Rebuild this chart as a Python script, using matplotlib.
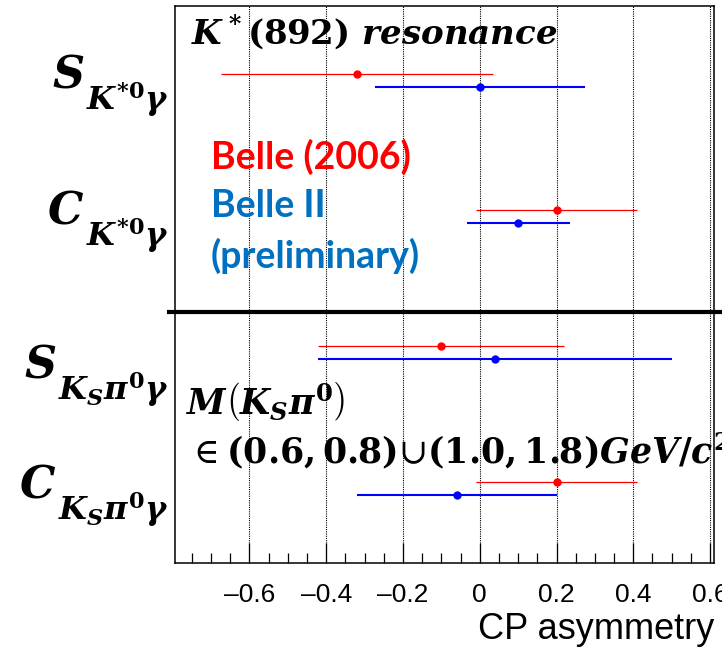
import matplotlib
matplotlib.use("Agg")
import matplotlib.pyplot as plt
from matplotlib.ticker import MultipleLocator, FuncFormatter
from matplotlib.transforms import blended_transform_factory

# Bold-italic math letters with bold upright digits (Cambria Math bold look)
plt.rcParams['mathtext.fontset'] = 'custom'
plt.rcParams['mathtext.it'] = 'DejaVu Serif:italic:bold'
plt.rcParams['mathtext.rm'] = 'DejaVu Serif:bold'
plt.rcParams['mathtext.bf'] = 'DejaVu Serif:italic:bold'
plt.rcParams['mathtext.sf'] = 'DejaVu Serif'

# Observables (top to bottom): main symbol and subscript
obs_main = ['S', 'C', 'S', 'C']
obs_sub = [r'K^{*0}\gamma', r'K^{*0}\gamma', r'K_S\pi^0\gamma', r'K_S\pi^0\gamma']

# Belle (2006)
belle_val = [-0.32, 0.20, -0.10, 0.20]
belle_lo = [0.353, 0.21, 0.32, 0.21]
belle_hi = [0.355, 0.21, 0.32, 0.21]

# Belle II (preliminary)
belle2_val = [0.00, 0.10, 0.04, -0.06]
belle2_lo = [0.273, 0.133, 0.46, 0.26]
belle2_hi = [0.273, 0.134, 0.46, 0.26]

xticks = [-0.6, -0.4, -0.2, 0.0, 0.2, 0.4, 0.6]

RED = '#ff0000'
BLUE = '#0000ff'
TXT_BLUE = '#0070c0'

fig = plt.figure(figsize=(7.22, 6.48), dpi=100)
ax = fig.add_axes([174.5 / 722, (648 - 562.7) / 648, 539.8 / 722, 557.2 / 648])

n = len(obs_main)
y_belle = [i + 0.5 for i in range(n)]
y_belle2 = [i + 0.6 for i in range(n)]

ax.errorbar(belle_val, y_belle, xerr=[belle_lo, belle_hi], fmt='o', color=RED,
            ms=5, elinewidth=0.9, capsize=0, zorder=4)
ax.errorbar(belle2_val, y_belle2, xerr=[belle2_lo, belle2_hi], fmt='o', color=BLUE,
            ms=5, elinewidth=1.5, capsize=0, zorder=4)

ax.set_xlim(-0.795, 0.611)
ax.set_ylim(4.097, 0)

# grid and ticks
for xv in xticks:
    ax.axvline(xv, color='black', lw=0.8, ls=(0, (1, 1)), zorder=1)
ax.set_xticks(xticks)
ax.xaxis.set_minor_locator(MultipleLocator(0.05))
ax.xaxis.set_major_formatter(FuncFormatter(
    lambda v, p: '0' if abs(v) < 1e-9 else f'{v:.1f}'.replace('-', '\u2013')))
ax.tick_params(axis='x', which='major', direction='in', length=14.5, width=0.9,
               labelsize=19, pad=14.5, top=False)
ax.tick_params(axis='x', which='minor', direction='in', length=7.2, width=0.9, top=False)
for lab in ax.get_xticklabels():
    lab.set_family('Liberation Sans')
ax.set_yticks([])
for sp in ax.spines.values():
    sp.set_linewidth(1.1)

ax.set_xlabel('CP asymmetry', fontsize=26, family='Liberation Sans', loc='right',
              labelpad=4)

# thick separator between the two channels
ax.plot([-0.01, 1.02], [2.254, 2.254], color='black', lw=3,
        transform=ax.get_yaxis_transform(), clip_on=False, zorder=5)

# row labels on the left: subscript sits well below the main letter
label_base = [0.60, 1.60, 2.732, 3.614]
sub_drop = 0.169
subs = []
for sub, yb in zip(obs_sub, label_base):
    subs.append(ax.text(-0.009, yb + sub_drop, f'${sub}$', transform=ax.get_yaxis_transform(),
                        ha='right', va='baseline', fontsize=23))
fig.canvas.draw()
renderer = fig.canvas.get_renderer()
fig_x = blended_transform_factory(fig.transFigure, ax.transData)
for main, sub_txt, yb in zip(obs_main, subs, label_base):
    bb = sub_txt.get_window_extent(renderer)
    ax.text((bb.x0 - 2) / fig.bbox.width, yb, f'${main}$', transform=fig_x,
            ha='right', va='baseline', fontsize=32)

# annotations
ax.text(-0.752, 0.195, r'$K^*(892)\ resonance$', fontsize=24.5, ha='left', va='center')
ax.text(-0.70, 1.115, 'Belle (2006)', color=RED, fontsize=27, family='Lato',
        weight='bold', ha='left', va='center')
ax.text(-0.70, 1.475, 'Belle II', color=TXT_BLUE, fontsize=27, family='Lato',
        weight='bold', ha='left', va='center')
ax.text(-0.70, 1.84, '(preliminary)', color=TXT_BLUE, fontsize=27, family='Lato',
        weight='bold', ha='left', va='center')
ax.text(-0.764, 3.01, r'$M\left(K_S\pi^0\right)$', fontsize=25, ha='left', va='baseline')
ax.text(-0.764, 3.364, r'$\mathsf{\in}(0.6,0.8){\mathsf{\cup}}(1.0,1.8)GeV/c^2$',
        fontsize=25, ha='left', va='baseline')

fig.savefig('out.png', dpi=100)
